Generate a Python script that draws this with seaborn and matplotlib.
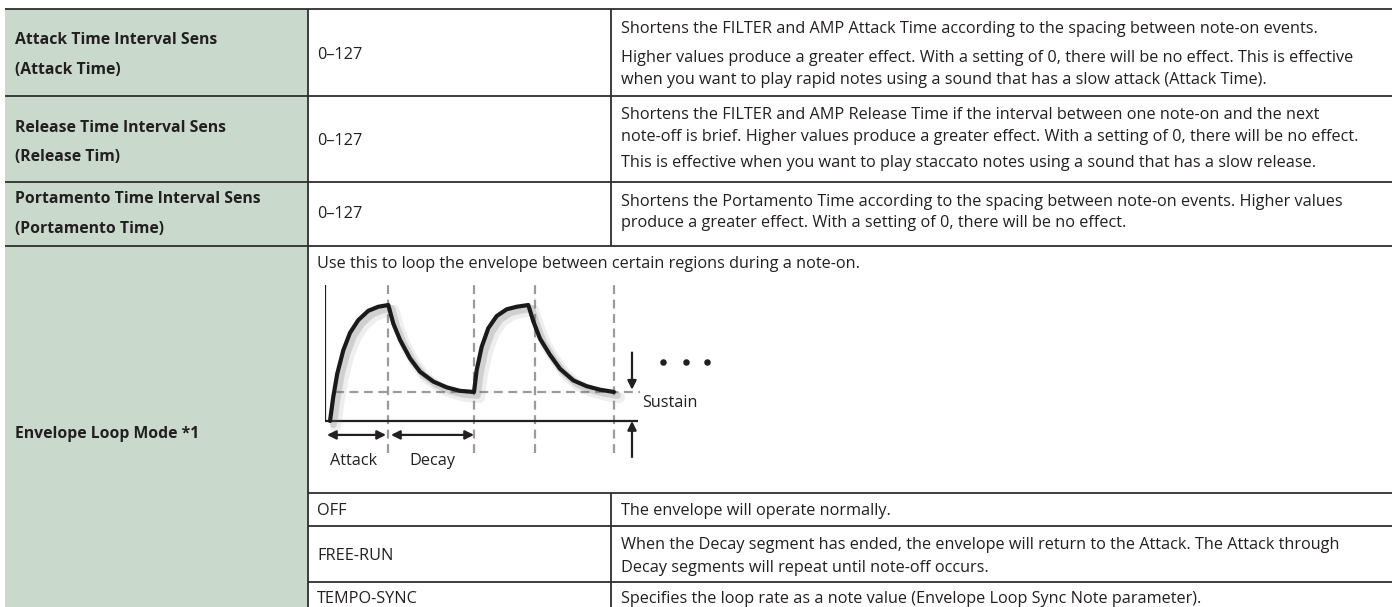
"""
plot.py — Envelope Loop parametre tablosu ve zarf diyagrami.
"""

import matplotlib
matplotlib.use("Agg")
import matplotlib.pyplot as plt
import matplotlib.patheffects as pe
import pandas as pd
import seaborn as sns

# --- tablo verisi ---
param_names = ["Attack Time Interval Sens", "Release Time Interval Sens",
               "Portamento Time Interval Sens"]
param_subnames = ["(Attack Time)", "(Release Tim)", "(Portamento Time)"]
value_ranges = ["0–127", "0–127", "0–127"]
descriptions = [
    ["Shortens the FILTER and AMP Attack Time according to the spacing between note-on events.",
     "Higher values produce a greater effect. With a setting of 0, there will be no effect. This is effective",
     "when you want to play rapid notes using a sound that has a slow attack (Attack Time)."],
    ["Shortens the FILTER and AMP Release Time if the interval between one note-on and the next",
     "note-off is brief. Higher values produce a greater effect. With a setting of 0, there will be no effect.",
     "This is effective when you want to play staccato notes using a sound that has a slow release."],
    ["Shortens the Portamento Time according to the spacing between note-on events. Higher values",
     "produce a greater effect. With a setting of 0, there will be no effect."],
]
loop_label = "Envelope Loop Mode *1"
loop_intro = "Use this to loop the envelope between certain regions during a note-on."
loop_modes = ["OFF", "FREE-RUN", "TEMPO-SYNC"]
loop_mode_desc = [
    ["The envelope will operate normally."],
    ["When the Decay segment has ended, the envelope will return to the Attack. The Attack through",
     "Decay segments will repeat until note-off occurs."],
    ["Specifies the loop rate as a note value (Envelope Loop Sync Note parameter)."],
]

# --- zarf egrisi ---
env_time = [5, 8.3, 12.3, 18.3, 25, 33.3, 43.3, 53.3, 63.3,
            68.3, 75, 85, 95, 108.3, 121.7, 135, 149,
            151.7, 156.7, 163.3, 171.7, 181.7, 191.7, 203.3,
            208.3, 215, 225, 235, 248.3, 261.7, 275, 289]
env_level = [0.0, 0.21, 0.41, 0.61, 0.76, 0.87, 0.95, 0.985, 1.0,
             0.84, 0.70, 0.54, 0.425, 0.34, 0.29, 0.26, 0.25,
             0.44, 0.64, 0.80, 0.905, 0.963, 0.985, 1.0,
             0.86, 0.71, 0.57, 0.45, 0.35, 0.30, 0.27, 0.25]
segment_marks = [63, 149, 210, 289]
sustain_level = 0.25

# --- stil ---
W, H = 1392, 607
GREEN = "#c9d9cc"
LINE = "#2e2e2e"
TXT = "#231f20"
FS = 11.7      # govde metni
FS_B = 11.3    # kalin etiketler

sns.set_theme(style="white")
plt.rcParams["font.family"] = ["Open Sans", "DejaVu Sans"]

fig = plt.figure(figsize=(W / 100, H / 100), dpi=100)
ax = fig.add_axes([0, 0, 1, 1])
ax.set_xlim(0, W)
ax.set_ylim(H, 0)
ax.axis("off")

row_edges = [9, 96, 182, 246, 640]
col_edges = [5, 308, 611, W]
sub_edges = [493, 526, 582, 640]

# sol sutun yesil zemin
ax.add_patch(plt.Rectangle((col_edges[0], row_edges[0]), col_edges[1] - col_edges[0],
                           row_edges[-1] - row_edges[0], color=GREEN, lw=0, zorder=0))

# yatay cizgiler
ax.hlines(row_edges[:-1], col_edges[0], W, color=LINE, lw=1.3)
ax.hlines(sub_edges[:-1], col_edges[1], W, color=LINE, lw=1.3)
# dikey cizgiler
ax.vlines(col_edges[1], row_edges[0], H, color=LINE, lw=1.3)
ax.vlines(col_edges[2], row_edges[0], row_edges[3], color=LINE, lw=1.3)
ax.vlines(col_edges[2], sub_edges[0], H, color=LINE, lw=1.3)

label_y = [(40, 70), (128, 157), (199, 229)]
value_y = [55, 141, 214]
desc_y = [[29, 58, 80], [115, 137, 163], [202, 223]]

for i in range(3):
    ax.text(15, label_y[i][0], param_names[i], fontsize=FS_B, fontweight="bold",
            color=TXT, va="center")
    ax.text(15, label_y[i][1], param_subnames[i], fontsize=FS_B, fontweight="bold",
            color=TXT, va="center")
    ax.text(317, value_y[i], value_ranges[i], fontsize=FS, color=TXT, va="center")
    for line, y in zip(descriptions[i], desc_y[i]):
        ax.text(621, y, line, fontsize=FS, color=TXT, va="center")

ax.text(15, 434, loop_label, fontsize=FS_B, fontweight="bold", color=TXT, va="center")
ax.text(317, 264, loop_intro, fontsize=FS, color=TXT, va="center")

mode_y = [511, 556, 599]
mode_desc_y = [[511], [545, 568], [599]]
for i, mode in enumerate(loop_modes):
    ax.text(317, mode_y[i], mode, fontsize=FS, color=TXT, va="center")
    for line, y in zip(loop_mode_desc[i], mode_desc_y[i]):
        ax.text(621, y, line, fontsize=FS, color=TXT, va="center")

# --- zarf diyagrami (ic eksen) ---
px_left, px_base, level_px = 325, 421, 116
x_lo, x_hi = 0, 400
y_lo, y_hi = -0.45, 1.25
dx = fig.add_axes([px_left / W, (H - (px_base - y_lo * level_px)) / H,
                   (x_hi - x_lo) / W, (y_hi - y_lo) * level_px / H])
dx.set_xlim(x_lo, x_hi)
dx.set_ylim(y_lo, y_hi)
dx.axis("off")
dx.patch.set_alpha(0)

DASH = dict(color="#9b9b9b", lw=1.6, ls=(0, (4, 2.5)))
dx.vlines(segment_marks, -0.28, 1.19, **DASH)
dx.hlines(sustain_level, 10, 315, **DASH)

# eksenler
dx.plot([0, 0], [0, 1.17], color=TXT, lw=1.6, solid_capstyle="butt")
dx.plot([0, 313], [0, 0], color=TXT, lw=1.6, solid_capstyle="butt")

env = pd.DataFrame({"time": env_time, "level": env_level})
sns.lineplot(data=env, x="time", y="level", sort=False, estimator=None,
             color="#1a1a1a", lw=3.0, ax=dx, zorder=5,
             path_effects=[pe.SimpleLineShadow(offset=(4, -4), shadow_color="#777777",
                                               alpha=0.12, linewidth=8),
                           pe.SimpleLineShadow(offset=(2.5, -2.5), shadow_color="#666666",
                                               alpha=0.22, linewidth=5),
                           pe.Normal()])
dx.set_xlabel("")
dx.set_ylabel("")

ARROW = dict(arrowstyle="<|-|>", color=TXT, lw=1.6, mutation_scale=13,
             shrinkA=0, shrinkB=0)
dx.annotate("", xy=(61, -0.12), xytext=(2, -0.12), arrowprops=ARROW)
dx.annotate("", xy=(149, -0.12), xytext=(66, -0.12), arrowprops=ARROW)
dx.text(29, -0.345, "Attack", fontsize=FS, color=TXT, ha="center", va="center")
dx.text(107, -0.345, "Decay", fontsize=FS, color=TXT, ha="center", va="center")

ONE = dict(arrowstyle="-|>", color=TXT, lw=1.6, mutation_scale=13,
           shrinkA=0, shrinkB=0)
dx.annotate("", xy=(307, 0.27), xytext=(307, 0.59), arrowprops=ONE)
dx.annotate("", xy=(307, 0.0), xytext=(307, -0.31), arrowprops=ONE)
dx.text(317, 0.155, "Sustain", fontsize=FS, color=TXT, va="center")
dx.scatter([338, 361, 382], [0.51, 0.51, 0.51], s=22, color=TXT, lw=0)

fig.savefig("out.png", dpi=100)
plt.close(fig)
